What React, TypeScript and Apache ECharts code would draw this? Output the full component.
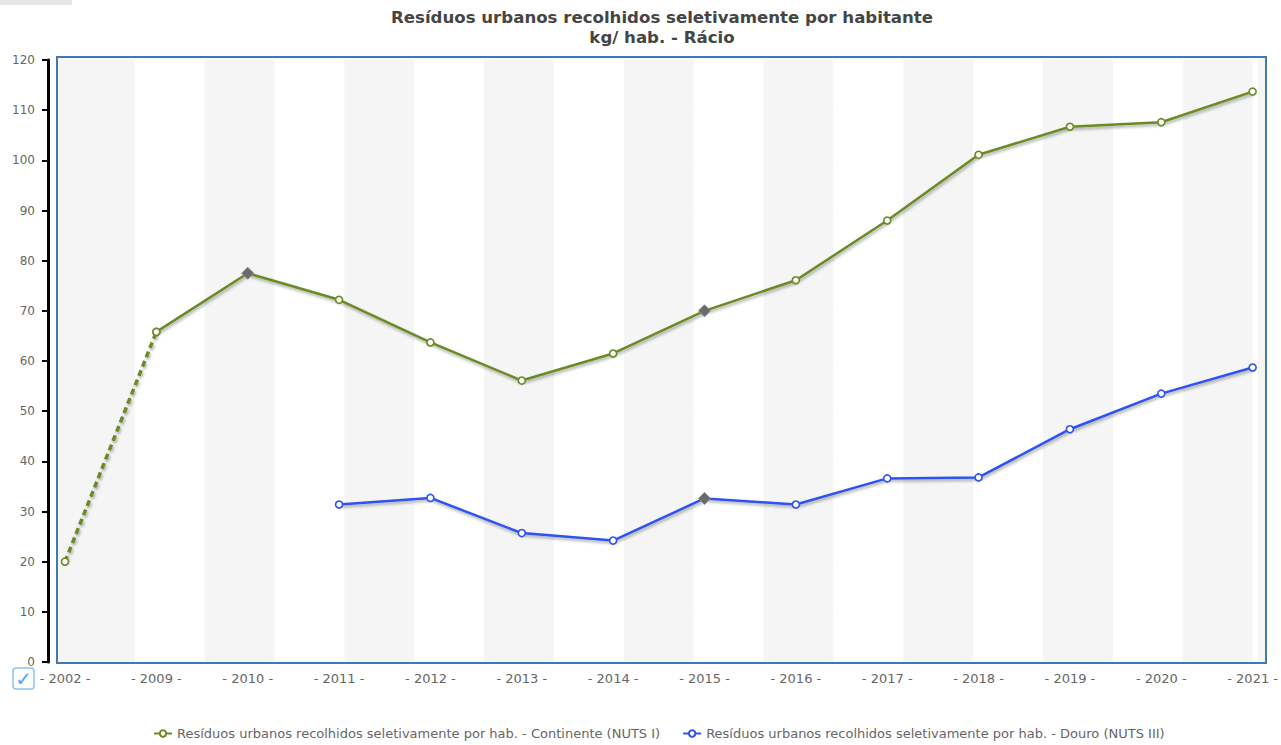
import React, { useEffect, useRef } from "react";
import * as echarts from "echarts";

const titleLine1 = "Resíduos urbanos recolhidos seletivamente por habitante";
const titleLine2 = "kg/ hab. - Rácio";

const years = ["2002", "2009", "2010", "2011", "2012", "2013", "2014", "2015", "2016", "2017", "2018", "2019", "2020", "2021"];

const contName = "Resíduos urbanos recolhidos seletivamente por hab. - Continente (NUTS I)";
const douroName = "Resíduos urbanos recolhidos seletivamente por hab. - Douro (NUTS III)";

// Continente values (2002 is joined to 2009 by a dashed segment)
const contValues = [20.0, 65.8, 77.5, 72.2, 63.7, 56.1, 61.5, 70.0, 76.1, 88.0, 101.1, 106.7, 107.6, 113.7];
const contFlagged = [false, false, true, false, false, false, false, true, false, false, false, false, false, false];
const contDashedUntil = 1; // index of last point of the dashed part

const douroValues: (number | null)[] = [null, null, null, 31.4, 32.7, 25.7, 24.2, 32.6, 31.4, 36.6, 36.8, 46.4, 53.5, 58.7];
const douroFlagged = [false, false, false, false, false, false, false, true, false, false, false, false, false, false];

const yTicks = { min: 0, max: 120, interval: 10 };
const bandCount = 17;

const GREEN = "#6b8a22";
const BLUE = "#2f52f0";
const FONT = "'DejaVu Sans', Verdana, sans-serif";

function pointItems(values: (number | null)[], flagged: boolean[], from: number, to: number) {
  return values.map((v, i) => {
    if (v === null || i < from || i > to) return "-";
    if (flagged[i]) {
      return {
        value: v,
        symbol: "diamond",
        symbolSize: 12,
        itemStyle: { color: "#6a6a6a", borderColor: "#8a8a8a", borderWidth: 1 },
      };
    }
    return { value: v };
  });
}

export default function App() {
  const ref = useRef<HTMLDivElement>(null);
  useEffect(() => {
    if (!ref.current) return;
    const chart = echarts.init(ref.current, undefined, { renderer: "svg" });
    const lineShadow = {
      shadowColor: "rgba(0,0,0,0.35)",
      shadowBlur: 3,
      shadowOffsetX: 1,
      shadowOffsetY: 2,
    };
    const marker = (color: string) => ({
      color: "#ffffff",
      borderColor: color,
      borderWidth: 1.6,
    });
    chart.setOption({
      animation: false,
      textStyle: { fontFamily: FONT },
      grid: { left: 65, right: 23, top: 60, height: 602, containLabel: false },
      legend: {
        data: [contName, douroName],
        bottom: 0,
        left: 148,
        itemGap: 22,
        itemWidth: 18,
        itemHeight: 8,
        textStyle: { color: "#666", fontSize: 13, fontFamily: FONT },
      },
      xAxis: [
        {
          type: "category",
          data: years,
          boundaryGap: false,
          axisLine: { show: false },
          axisTick: { show: false },
          splitLine: { show: false },
          axisLabel: {
            color: "#666",
            fontSize: 13,
            margin: 10,
            formatter: (v: string) => "- " + v + " -",
          },
        },
        {
          type: "value",
          min: 0,
          max: bandCount,
          interval: 1,
          show: true,
          axisLine: { show: false },
          axisTick: { show: false },
          axisLabel: { show: false },
          splitLine: { show: false },
          splitArea: { show: true, areaStyle: { color: ["#f5f5f5", "#ffffff"] } },
        },
      ],
      yAxis: {
        type: "value",
        min: yTicks.min,
        max: yTicks.max,
        interval: yTicks.interval,
        offset: 17,
        axisLine: { show: true, onZero: false, lineStyle: { color: "#000", width: 3 } },
        axisTick: { show: true, length: 6, lineStyle: { color: "#000", width: 2 } },
        axisLabel: { color: "#666", fontSize: 12, margin: 13 },
        splitLine: { show: true, lineStyle: { color: "#b8b8b8", type: [1, 3], width: 1 } },
      },
      graphic: [
        { type: "rect", shape: { x: 0, y: 0, width: 72, height: 5 }, style: { fill: "#e6e6e6" }, z: 0 },
        { type: "rect", shape: { x: 57, y: 58, width: 8, height: 605 }, style: { fill: "#f5f5f5" }, z: 0 },
        { type: "rect", shape: { x: 1258, y: 58, width: 8, height: 605 }, style: { fill: "#f5f5f5" }, z: 0 },
        {
          type: "rect",
          shape: { x: 57, y: 57, width: 1209, height: 606 },
          style: { fill: "none", stroke: "#3e7ab0", lineWidth: 2 },
          z: 100,
        },
        {
          type: "text",
          x: 662,
          y: 9,
          style: { text: titleLine1, font: "bold 16.6px " + FONT, fill: "#454545", textAlign: "center", textVerticalAlign: "top" },
          z: 100,
        },
        {
          type: "text",
          x: 662,
          y: 29,
          style: { text: titleLine2, font: "bold 16.6px " + FONT, fill: "#454545", textAlign: "center", textVerticalAlign: "top" },
          z: 100,
        },
        {
          type: "rect",
          shape: { x: 13, y: 668, width: 21, height: 21, r: 3 },
          style: { fill: "#ffffff", stroke: "#8cc4f0", lineWidth: 1.5 },
          z: 100,
        },
        {
          type: "text",
          x: 23.5,
          y: 679,
          style: { text: "✓", font: "20px " + FONT, fill: "#5aa4ee", textAlign: "center", textVerticalAlign: "middle" },
          z: 101,
        },
      ],
      series: [
        {
          name: contName,
          type: "line",
          xAxisIndex: 0,
          data: pointItems(contValues, contFlagged, contDashedUntil, contValues.length - 1),
          symbol: "circle",
          symbolSize: 7,
          showAllSymbol: true,
          color: GREEN,
          lineStyle: { color: GREEN, width: 2.5, ...lineShadow },
          itemStyle: marker(GREEN),
          z: 5,
        },
        {
          name: douroName,
          type: "line",
          xAxisIndex: 0,
          data: pointItems(douroValues, douroFlagged, 0, douroValues.length - 1),
          symbol: "circle",
          symbolSize: 7,
          showAllSymbol: true,
          color: BLUE,
          lineStyle: { color: BLUE, width: 2.5, ...lineShadow },
          itemStyle: marker(BLUE),
          z: 5,
        },
        {
          name: contName + " (tracejado)",
          type: "line",
          xAxisIndex: 0,
          data: pointItems(contValues, contFlagged, 0, contDashedUntil),
          symbol: "circle",
          symbolSize: 7,
          showAllSymbol: true,
          color: GREEN,
          lineStyle: { color: GREEN, width: 3.5, type: [6, 4], ...lineShadow },
          itemStyle: marker(GREEN),
          z: 4,
        },
      ],
    });
    return () => chart.dispose();
  }, []);
  return (
    <div
      ref={ref}
      style={{ position: "fixed", left: 0, top: 0, width: 1281, height: 745, background: "#fff" }}
    />
  );
}
